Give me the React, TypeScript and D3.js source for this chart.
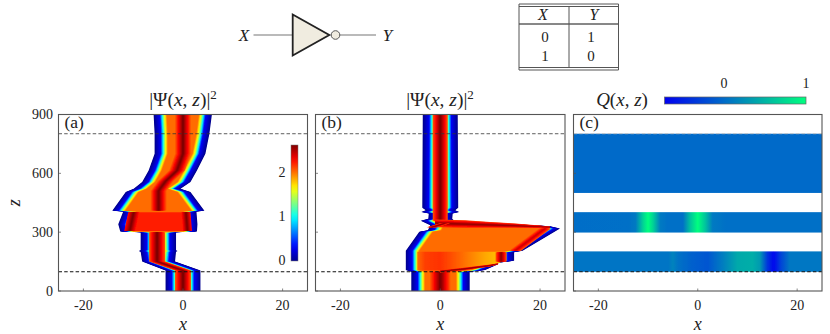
import React from "react";
import * as d3 from "d3";

const xTicks = [-20, 0, 20];
const zTicks = [0, 300, 600, 900];
const jetStops = ["#00008f", "#0000ff", "#00ffff", "#ffff00", "#ff0000", "#800000"];
const jetDomain = [0, 0.125, 0.375, 0.625, 0.875, 1];
const qStops = ["#0000f0", "#006bc9", "#00ff7f"];
const qDomain = [-0.72, 0, 1];
// Flank of each beam: fraction across the flank -> |Psi|^2
const flankT = [0, 0.45, 0.62, 0.78, 1];
const flankV = [0, 0.3, 0.95, 1.5, 2];

// Panel (a) outline
const aZ = [0, 105, 150, 200, 204, 208, 300, 304, 340, 405, 409, 505, 522, 556, 615, 700, 802, 900];
const aLeft = [-3.5, -3.5, -8.2, -8.5, -8.9, -8.5, -8.5, -12.6, -13, -12, -14.2, -11.5, -9.9, -8.2, -6.9, -5.7, -5.7, -5.9];
const aRight = [3.5, 3.5, -1.6, -1.4, -1.1, -1.4, -1.4, 2.8, 2.9, 2.7, 4.3, 1.5, -0.5, 1.5, 2.8, 4.5, 5.3, 5.8];
// Panel (a) ridges
const aCoreLowZ = [0, 105, 150, 300];
const aCoreLowC = [0, 0, -5.2, -5.2];
const aCoreHighZ = [410, 510, 525, 560, 615, 700, 900];
const aCoreHighC = [-4.9, -4.9, -4.5, -3.5, -1.2, 0, 0];
const aShelfZ = [306, 402];
const aShelfL = [-10.7, -9.9];
const aShelfR = [0.9, 0.6];

// Panel (b) outline
const bZ = [0, 98, 107, 136, 144, 154, 197, 205, 302, 310, 319, 330, 335, 358, 368, 395, 403, 412, 425, 900];
const bLeft = [-5.8, -5.8, -6.9, -6.9, -6.9, -6.9, -6.9, -6.9, -4.2, -2.5, -2.3, -2.1, -2, -3.9, -2.4, -2.3, -3.8, -2.9, -3.6, -3.5];
const bRight = [5.9, 5.9, 9, 11.6, 11.6, 14.8, 14.8, 16.5, 22.9, 23.4, 24, 22, 18.6, 2.8, 2.4, 2.5, 3.8, 3, 3.6, 3.5];
const bStripXs = [-4.6, -3, 0, 3, 6, 9, 11, 12.5];
const bStripVs = [2.0, 2.12, 2.15, 2.05, 1.95, 1.85, 1.8, 1.9];
const bStripLow = [104, 104, 104, 107, 115, 126, 134, 150];
const bStripHigh = [200, 200, 200, 200, 200, 200, 200, 200];
const bStreakXs = [-1, 5, 10, 15, 20, 22];
const bStreakZ = [345, 341, 337, 333, 328, 325];
const bStreakH = [20, 20, 15, 11, 6, 3];
const bLobeXs = [0, 5, 10, 11.5];
const bLobeZ = [100, 113, 130, 138];
const bLobeH = [6, 7, 5, 3];

// Panel (c) data
const cBandTop = { z: [500, 802], xs: [-25, 25], q: [0.0, 0.0] };
const cBandMid = {
  z: [298, 402],
  xs: [-25, -14, -12.5, -11, -10, -9, -7.5, -6, -3, -1.5, 0, 1.5, 3, 6, 25],
  q: [0.02, 0.03, 0.1, 0.7, 1, 0.7, 0.1, 0.03, 0.03, 0.6, 1, 0.6, 0.1, 0.03, 0.03],
};
const cBandLow = {
  z: [98, 202],
  xs: [-25, -6, -5, -4, -1, 2, 5, 8, 11, 12.5, 14, 15.3, 16.8, 18.5, 25],
  q: [0.06, 0.06, 0.16, 0.05, -0.08, -0.15, 0.12, 0.42, 0.45, 0.32, -0.35, -0.68, -0.25, 0.08, 0.08],
};

const W = 830;
const H = 334;
const panels = [
  { name: "a", left: 58.5, right: 307.5 },
  { name: "b", left: 315.5, right: 565 },
  { name: "c", left: 573.5, right: 822 },
];
const top = 114.5;
const bottom = 291;
const serif = "'Liberation Serif', 'DejaVu Serif', serif";
const jet = d3.scaleLinear<string>().domain(jetDomain.map((d) => d * 2.6)).range(jetStops).interpolate(d3.interpolateRgb).clamp(true);
const qColor = d3.scaleLinear<string>().domain(qDomain).range(qStops).clamp(true);
const flank = d3.scaleLinear().domain(flankT).range(flankV);
const zScale = d3.scaleLinear().domain([0, 900]).range([bottom, top]);
const xScaleOf = (p: { left: number; right: number }) => d3.scaleLinear().domain([-25, 25]).range([p.left, p.right]);
const jetBar = d3.range(0, 1.0001, 0.05);

type X = d3.ScaleLinear<number, number>;

function vArea(x: X, z: number[], x0: number[], x1: number[]) {
  const idx = z.map((_, i) => i);
  return d3.area<number>().y((i) => zScale(z[i])).x0((i) => x(x0[i])).x1((i) => x(x1[i]))(idx) || "";
}
function hArea(x: X, xs: number[], z0: number[], z1: number[]) {
  const idx = xs.map((_, i) => i);
  return d3.area<number>().x((i) => x(xs[i])).y0((i) => zScale(z0[i])).y1((i) => zScale(z1[i]))(idx) || "";
}

function Edge({ x, z, l, r, w = 2.6 }: { x: X; z: number[]; l: number[]; r: number[]; w?: number }) {
  const n = 20;
  return (
    <g>
      {d3.range(n + 1).map((i) => {
        const t = i / n;
        const a = l.map((v, k) => Math.min(v + w * t, (v + r[k]) / 2));
        const b = r.map((v, k) => Math.max(v - w * t, (l[k] + v) / 2));
        return <path key={i} d={vArea(x, z, a, b)} fill={jet(flank(t))} />;
      })}
    </g>
  );
}

function Ridge({ x, z, c, h, v0 = 2.0, v1 = 2.6 }: { x: X; z: number[]; c: number[]; h: number; v0?: number; v1?: number }) {
  const n = 8;
  return (
    <g>
      {d3.range(1, n + 1).map((j) => {
        const hw = h * (1 - (j - 1) / n);
        return (
          <path
            key={j}
            d={vArea(x, z, c.map((d) => d - hw), c.map((d) => d + hw))}
            fill={jet(v0 + ((v1 - v0) * j) / n)}
          />
        );
      })}
    </g>
  );
}

function HRidge({ x, xs, zc, zh, v0 = 2.0, v1 = 2.6 }: { x: X; xs: number[]; zc: number[]; zh: number[]; v0?: number; v1?: number }) {
  const n = 8;
  return (
    <g>
      {d3.range(1, n + 1).map((j) => {
        const f = 1 - (j - 1) / n;
        return (
          <path
            key={j}
            d={hArea(x, xs, zc.map((d, i) => d - zh[i] * f), zc.map((d, i) => d + zh[i] * f))}
            fill={jet(v0 + ((v1 - v0) * j) / n)}
          />
        );
      })}
    </g>
  );
}

function Frame({ p, index }: { p: (typeof panels)[number]; index: number }) {
  const x = xScaleOf(p);
  return (
    <g fontFamily={serif} fill="#222">
      <line x1={p.left} x2={p.right} y1={zScale(802)} y2={zScale(802)} stroke={index === 2 ? "#bbb" : "#333"} strokeWidth={0.8} strokeDasharray="3.5 2.2" />
      <line x1={p.left} x2={p.right} y1={zScale(98)} y2={zScale(98)} stroke="#111" strokeWidth={1.1} strokeDasharray="3.5 2.2" />
      <rect x={p.left} y={top} width={p.right - p.left} height={bottom - top} fill="none" stroke="#555" strokeWidth={1.1} />
      {xTicks.map((t) => (
        <g key={t}>
          <line x1={x(t)} x2={x(t)} y1={bottom} y2={bottom - 2.5} stroke="#555" strokeWidth={0.7} />
          <text x={x(t)} y={310} textAnchor="middle" fontSize={14}>{t}</text>
        </g>
      ))}
      <text x={x(0)} y={330} textAnchor="middle" fontSize={18} fontStyle="italic">x</text>
      {zTicks.map((t) => (
        <g key={t}>
          <line x1={p.left} x2={p.left + 2.5} y1={zScale(t)} y2={zScale(t)} stroke="#555" strokeWidth={0.7} />
          {index === 0 && (
            <text x={53} y={zScale(t) + 4.5} textAnchor="end" fontSize={14}>{t}</text>
          )}
        </g>
      ))}
      <text x={p.left + 6} y={128} fontSize={17.5}>({p.name})</text>
    </g>
  );
}

function Title({ cx }: { cx: number }) {
  return (
    <text x={cx} y={106} textAnchor="middle" fontFamily={serif} fontSize={19.5} fill="#222">
      |Ψ(<tspan fontStyle="italic">x</tspan>, <tspan fontStyle="italic">z</tspan>)|
      <tspan dy={-7} fontSize={13}>2</tspan>
    </text>
  );
}

function QBand({ band, x, id }: { band: { z: number[]; xs: number[]; q: number[] }; x: X; id: string }) {
  const [x0, x1] = [band.xs[0], band.xs[band.xs.length - 1]];
  return (
    <g>
      <linearGradient id={id} x1="0" x2="1" y1="0" y2="0">
        {band.xs.map((v, i) => (
          <stop key={i} offset={(v - x0) / (x1 - x0)} stopColor={qColor(band.q[i])} />
        ))}
      </linearGradient>
      <rect x={x(x0)} width={x(x1) - x(x0)} y={zScale(band.z[1])} height={zScale(band.z[0]) - zScale(band.z[1])} fill={`url(#${id})`} />
    </g>
  );
}

export default function App() {
  const xa = xScaleOf(panels[0]);
  const xb = xScaleOf(panels[1]);
  const xc = xScaleOf(panels[2]);
  const stripL = xb(bStripXs[0]);
  const stripR = xb(bStripXs[bStripXs.length - 1]);
  return (
    <svg width={W} height={H} style={{ position: "absolute", left: 0, top: 0, background: "#fff" }}>
      <defs>
        <filter id="soft" x="-5%" y="-5%" width="110%" height="110%">
          <feGaussianBlur stdDeviation="0.4" />
        </filter>
        {panels.map((p) => (
          <clipPath key={p.name} id={`clip-${p.name}`}>
            <rect x={p.left} y={top} width={p.right - p.left} height={bottom - top} />
          </clipPath>
        ))}
        <linearGradient id="jetBar" x1="0" x2="0" y1="1" y2="0">
          {jetBar.map((t) => (
            <stop key={t} offset={t} stopColor={jet(t * 2.6)} />
          ))}
        </linearGradient>
        <linearGradient id="qBar" x1="0" x2="1" y1="0" y2="0">
          {qStops.map((c, i) => (
            <stop key={i} offset={(qDomain[i] - qDomain[0]) / (qDomain[2] - qDomain[0])} stopColor={c} />
          ))}
        </linearGradient>
        <linearGradient id="bStrip" x1="0" x2="1" y1="0" y2="0">
          {bStripXs.map((v, i) => (
            <stop key={i} offset={(xb(v) - stripL) / (stripR - stripL)} stopColor={jet(bStripVs[i])} />
          ))}
        </linearGradient>
      </defs>

      {/* panel a */}
      <g clipPath="url(#clip-a)">
        <g filter="url(#soft)">
          <Edge x={xa} z={aZ} l={aLeft} r={aRight} />
          <Ridge x={xa} z={aCoreLowZ} c={aCoreLowC} h={1.6} />
          <path d={vArea(xa, aShelfZ, aShelfL, aShelfR)} fill={jet(2.2)} />
          <Ridge x={xa} z={aShelfZ} c={aShelfL} h={1.1} v0={2.2} />
          <Ridge x={xa} z={aShelfZ} c={aShelfR} h={0.9} v0={2.2} />
          <Ridge x={xa} z={aCoreHighZ} c={aCoreHighC} h={1.55} />
        </g>
      </g>

      {/* panel b */}
      <g clipPath="url(#clip-b)">
        <g filter="url(#soft)">
          <Edge x={xb} z={bZ} l={bLeft} r={bRight} w={2.7} />
          <path d={hArea(xb, bStripXs, bStripLow, bStripHigh)} fill="url(#bStrip)" />
          <Ridge x={xb} z={[150, 197]} c={[12.2, 12.2]} h={1.1} v0={2.0} v1={2.55} />
          <Ridge x={xb} z={[0, 98]} c={[0, 0]} h={2.0} />
          <Ridge x={xb} z={[358, 900]} c={[0, 0]} h={1.5} />
          <Ridge x={xb} z={[205, 319]} c={[15, 21]} h={1.2} v0={2.0} v1={2.4} />
          <HRidge x={xb} xs={bStreakXs} zc={bStreakZ} zh={bStreakH} v0={2.05} v1={2.55} />
          <HRidge x={xb} xs={bLobeXs} zc={bLobeZ} zh={bLobeH} />
          <Ridge x={xb} z={[325, 345]} c={[-1.7, 1]} h={1} />
        </g>
      </g>

      {/* panel c */}
      <g clipPath="url(#clip-c)">
        <g filter="url(#soft)">
          <QBand band={cBandTop} x={xc} id="qt" />
          <QBand band={cBandMid} x={xc} id="qm" />
          <QBand band={cBandLow} x={xc} id="ql" />
        </g>
      </g>

      {panels.map((p, i) => (
        <Frame key={p.name} p={p} index={i} />
      ))}
      <text
        transform={`translate(20,${zScale(450)}) rotate(-90)`}
        textAnchor="middle"
        fontFamily={serif}
        fontSize={18}
        fontStyle="italic"
        fill="#222"
      >
        z
      </text>

      <Title cx={183} />
      <Title cx={440} />
      <text x={622} y={106} textAnchor="middle" fontFamily={serif} fontSize={19} fill="#222">
        <tspan fontStyle="italic">Q</tspan>(<tspan fontStyle="italic">x</tspan>, <tspan fontStyle="italic">z</tspan>)
      </text>

      {/* jet colour bar */}
      <rect x={291} y={145} width={7} height={116} fill="url(#jetBar)" stroke="#777" strokeWidth={0.5} />
      {[0, 1, 2].map((t) => (
        <text key={t} x={282} y={265 - t * 44} textAnchor="middle" fontFamily={serif} fontSize={14} fill="#222">
          {t}
        </text>
      ))}

      {/* Q colour bar */}
      <rect x={664.5} y={97} width={141.5} height={7} fill="url(#qBar)" stroke="#666" strokeWidth={0.7} />
      {[0, 1].map((t) => (
        <text key={t} x={724 + t * 82} y={88} textAnchor="middle" fontFamily={serif} fontSize={14} fill="#222">
          {t}
        </text>
      ))}

      {/* gate */}
      <line x1={253.5} x2={293} y1={35} y2={35} stroke="#777" strokeWidth={1.2} />
      <line x1={340} x2={376} y1={35} y2={35} stroke="#777" strokeWidth={1.2} />
      <path d="M292.7,14.5 L329.3,35 L292.7,55.5 Z" fill="#f0ece0" stroke="#222" strokeWidth={1.8} />
      <circle cx={335.5} cy={35} r={4.3} fill="#f0ece0" stroke="#555" strokeWidth={1} />
      <text x={244} y={41} textAnchor="middle" fontFamily={serif} fontSize={17} fontStyle="italic" fill="#222">X</text>
      <text x={387.5} y={41} textAnchor="middle" fontFamily={serif} fontSize={17} fontStyle="italic" fill="#222">Y</text>

      {/* truth table */}
      <g stroke="#555" strokeWidth={1}>
        <line x1={519} x2={618.5} y1={4} y2={4} />
        <line x1={519} x2={618.5} y1={6.5} y2={6.5} />
        <line x1={519} x2={618.5} y1={24} y2={24} stroke="#111" />
        <line x1={519} x2={618.5} y1={67.5} y2={67.5} />
        <line x1={519} x2={618.5} y1={70} y2={70} />
        <line x1={569} x2={569} y1={6.5} y2={67.5} />
        <line x1={519} x2={519} y1={4} y2={70} />
        <line x1={618.5} x2={618.5} y1={4} y2={70} />
      </g>
      <g fontFamily={serif} fontSize={15} fill="#222" textAnchor="middle">
        <text x={543} y={20} fontSize={16} fontStyle="italic">X</text>
        <text x={594} y={20} fontSize={16} fontStyle="italic">Y</text>
        <text x={545} y={42}>0</text>
        <text x={591} y={42}>1</text>
        <text x={545} y={61}>1</text>
        <text x={591} y={61}>0</text>
      </g>
    </svg>
  );
}
